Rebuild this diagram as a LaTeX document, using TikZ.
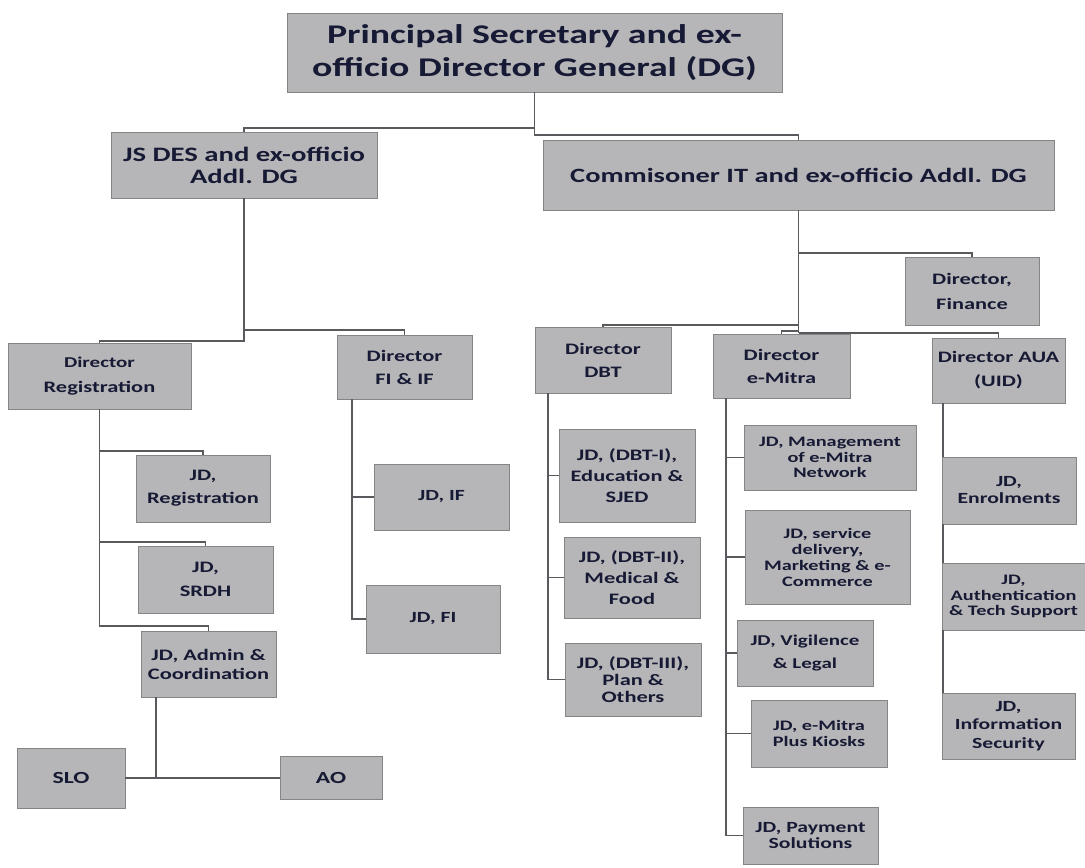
\documentclass[tikz,border=0pt]{standalone}
\usepackage{fontspec}
\setmainfont{Carlito}[FakeStretch=1.4]
\definecolor{boxfill}{HTML}{B6B6B8}
\definecolor{boxline}{HTML}{858585}
\definecolor{txt}{HTML}{171A34}
\definecolor{linec}{HTML}{5A5A5E}
\newcommand\fsz[2]{\fontsize{#1}{#2}\selectfont}
\tikzset{
  box/.style={draw=boxline, fill=boxfill, line width=0.9pt, text=txt, align=center,
    inner sep=1pt, font=\bfseries\fsz{15.5}{19}},
  conn/.style={draw=linec, line width=1.4pt},
}
\begin{document}
\begin{tikzpicture}[x=1pt,y=-1pt]
\useasboundingbox[fill=white] (0,0) rectangle (1085,868);

% top levels
\node[box,minimum width=495pt,minimum height=79pt,font=\bfseries\fsz{27}{33}] (top) at (534.5,52.5) {Principal Secretary and ex-\\officio Director General (DG)};
\node[box,minimum width=266pt,minimum height=66pt,font=\bfseries\fsz{20.5}{22}] (js) at (244,165) {JS DES and ex-officio\\Addl. DG};
\node[box,minimum width=511pt,minimum height=70pt,font=\bfseries\fsz{20.3}{22}] (com) at (798.5,175) {Commisoner IT and ex-officio Addl. DG};

% directors
\node[box,minimum width=134pt,minimum height=68pt,font=\bfseries\fsz{16}{25}] (dirfin) at (972,291) {Director,\\Finance};
\node[box,minimum width=183pt,minimum height=66pt,font=\bfseries\fsz{16}{25}] (dirreg) at (99.5,376) {{\fsz{15}{15}Director}\\Registration};
\node[box,minimum width=135pt,minimum height=64pt,font=\bfseries\fsz{16}{23}] (dirfi) at (404.5,367) {Director\\FI \& IF};
\node[box,minimum width=136pt,minimum height=66pt,font=\bfseries\fsz{16}{23}] (dirdbt) at (603,360) {Director\\DBT};
\node[box,minimum width=137pt,minimum height=64pt,font=\bfseries\fsz{16}{23}] (diremitra) at (781.5,366) {Director\\e-Mitra};
\node[box,minimum width=133pt,minimum height=65pt,font=\bfseries\fsz{16}{24}] (diraua) at (998.5,370.5) {Director AUA\\(UID)};

% registration branch
\node[box,minimum width=134pt,minimum height=67pt,font=\bfseries\fsz{16}{23}] (jdreg) at (203,488.5) {JD,\\Registration};
\node[box,minimum width=135pt,minimum height=67pt,font=\bfseries\fsz{16}{24}] (jdsrdh) at (205.5,579.5) {JD,\\SRDH};
\node[box,minimum width=135pt,minimum height=66pt,font=\bfseries\fsz{16}{19}] (jdadmin) at (208.5,664) {JD, Admin \&\\Coordination};
\node[box,minimum width=108pt,minimum height=60pt,font=\bfseries\fsz{17}{20}] (slo) at (71,778) {SLO};
\node[box,minimum width=102pt,minimum height=43pt,font=\bfseries\fsz{17}{20}] (ao) at (331,778) {AO};

% FI branch
\node[box,minimum width=135pt,minimum height=66pt] (jdif) at (441.5,497) {JD, IF};
\node[box,minimum width=134pt,minimum height=68pt] (jdfi) at (433,619) {JD, FI};

% DBT branch
\node[box,minimum width=136pt,minimum height=93pt,font=\bfseries\fsz{16}{21}] (dbt1) at (627,475.5) {JD, (DBT-I),\\Education \&\\SJED};
\node[box,minimum width=136pt,minimum height=81pt,font=\bfseries\fsz{16}{21}] (dbt2) at (632,577.5) {JD, (DBT-II),\\Medical \&\\Food};
\node[box,minimum width=136pt,minimum height=73pt,font=\bfseries\fsz{16}{17}] (dbt3) at (633,679.5) {JD, (DBT-III),\\Plan \&\\Others};

% e-Mitra branch
\node[box,minimum width=172pt,minimum height=65pt,font=\bfseries\fsz{14.5}{15.5}] (mgmt) at (830,457.5) {JD, Management\\of e-Mitra\\Network};
\node[box,minimum width=165pt,minimum height=94pt,font=\bfseries\fsz{14.5}{16}] (service) at (827.5,557) {JD, service\\delivery,\\Marketing \& e-\\Commerce};
\node[box,minimum width=136pt,minimum height=66pt,font=\bfseries\fsz{15}{23}] (vig) at (805,653) {JD, Vigilence\\\& Legal};
\node[box,minimum width=136pt,minimum height=67pt,font=\bfseries\fsz{14.5}{16}] (plus) at (819,733.5) {JD, e-Mitra\\Plus Kiosks};
\node[box,minimum width=135pt,minimum height=57pt,font=\bfseries\fsz{15.5}{16.5}] (pay) at (810.5,835.5) {JD, Payment\\Solutions};

% AUA branch
\node[box,minimum width=134pt,minimum height=67pt,font=\bfseries\fsz{15.5}{17}] (enrol) at (1009,490.5) {JD,\\Enrolments};
\node[box,minimum width=143pt,minimum height=67pt,font=\bfseries\fsz{14.5}{15.5}] (auth) at (1013.5,596.5) {JD,\\Authentication\\\& Tech Support};
\node[box,minimum width=133pt,minimum height=66pt,font=\bfseries\fsz{15.5}{18.5}] (infosec) at (1008.5,726) {JD,\\Information\\Security};

% junction coordinates
\coordinate (jL) at (0,128);
\coordinate (jR) at (0,135);
\coordinate (jJL) at (0,341);
\coordinate (jJR) at (0,330);
\coordinate (jFin) at (0,253);
\coordinate (jDBT) at (0,325);
\coordinate (jEM) at (0,331);
\coordinate (jAUA) at (0,333);
\coordinate (jR1) at (0,451);
\coordinate (jR2) at (0,542);
\coordinate (jR3) at (0,626);
\coordinate (jA) at (156,778);
\coordinate (jF) at (352,0);
\coordinate (jD) at (548,0);
\coordinate (jE) at (726,0);
\coordinate (jU) at (943,0);

% connectors
\draw[conn] (top.south) -- (top.south |- jL) -| (js.north);
\draw[conn] (top.south |- jL) -- (top.south |- jR) -| (com.north);

\draw[conn] (js.south) -- (js.south |- jJL) -| (dirreg.north);
\draw[conn] (js.south |- jJR) -| (dirfi.north);

\draw[conn] (com.south) -- (com.south |- jAUA);
\draw[conn] (com.south |- jFin) -| (dirfin.north);
\draw[conn] (com.south |- jDBT) -| (dirdbt.north);
\draw[conn] (com.south |- jEM) -| (diremitra.north);
\draw[conn] (com.south |- jAUA) -| (diraua.north);

\draw[conn] (dirreg.south) -- (dirreg.south |- jR3) -| (jdadmin.north);
\draw[conn] (dirreg.south |- jR1) -| (jdreg.north);
\draw[conn] (dirreg.south |- jR2) -| (jdsrdh.north);
\draw[conn] (jdadmin.south -| jA) -- (jA);
\draw[conn] (slo.east) -- (ao.west);

\draw[conn] (dirfi.south -| jF) |- (jdfi.west);
\draw[conn] (jdif.west -| jF) -- (jdif.west);

\draw[conn] (dirdbt.south -| jD) |- (dbt3.west);
\draw[conn] (dbt1.west -| jD) -- (dbt1.west);
\draw[conn] (dbt2.west -| jD) -- (dbt2.west);

\draw[conn] (diremitra.south -| jE) |- (pay.west);
\draw[conn] (mgmt.west -| jE) -- (mgmt.west);
\draw[conn] (service.west -| jE) -- (service.west);
\draw[conn] (vig.west -| jE) -- (vig.west);
\draw[conn] (plus.west -| jE) -- (plus.west);

\draw[conn] (diraua.south -| jU) -- (enrol.north -| jU);
\draw[conn] (enrol.south -| jU) -- (auth.north -| jU);
\draw[conn] (auth.south -| jU) -- (infosec.north -| jU);
\end{tikzpicture}
\end{document}
